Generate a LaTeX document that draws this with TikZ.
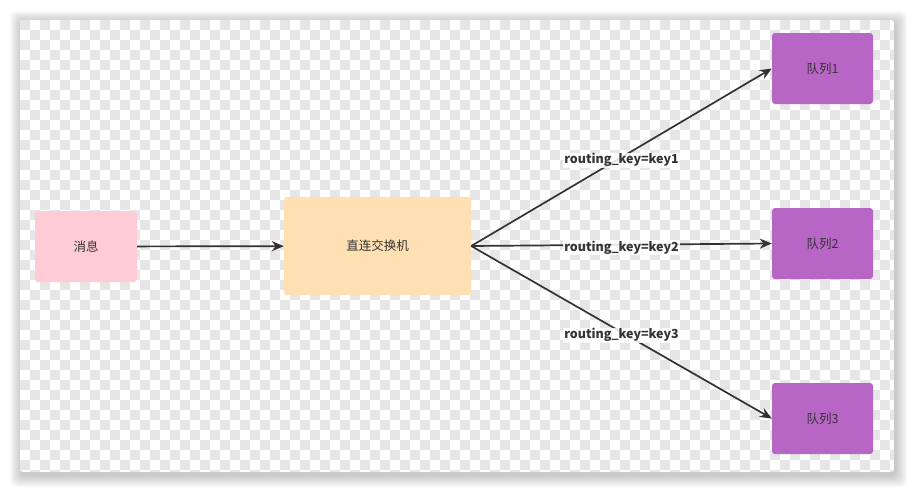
\documentclass[tikz,border=0pt]{standalone}
\usepackage{fontspec}
\setmainfont{Noto Sans CJK SC}
\usetikzlibrary{arrows.meta}
\definecolor{msgpink}{HTML}{FFCCD5}
\definecolor{xorange}{HTML}{FFE0B2}
\definecolor{qpurple}{HTML}{B866C6}
\definecolor{inkgray}{HTML}{333333}
\definecolor{checkgray}{HTML}{E6E6E6}

\begin{document}
\begin{tikzpicture}[x=1pt,y=-1pt,
    box/.style={rounded corners=3pt, inner sep=0pt, text=inkgray,
      font=\fontsize{12.5}{14}\selectfont},
    link/.style={draw=inkgray, line width=1.7pt,
      -{Stealth[length=12pt,width=10pt]}},
    key/.style={fill=white, fill opacity=0.85, text opacity=1, inner sep=1pt,
      yshift=-3pt, font=\fontsize{12.5}{14}\selectfont\bfseries, text=inkgray}]
  \useasboundingbox (0,0) rectangle (914,493);
  % card shadow
  \foreach \s in {1,...,12}
    \fill[black, opacity=0.02, rounded corners=6pt]
      (20-\s+2,20-\s+3) rectangle (894+\s+1,472+\s+3);
  % card with checkerboard
  \begin{scope}
    \clip[rounded corners=3pt] (20,20) rectangle (894,472);
    \fill[white] (20,20) rectangle (894,472);
    \foreach \j in {0,...,45}{
      \pgfmathtruncatemacro\st{mod(\j,2)}
      \pgfmathtruncatemacro\nx{\st+2}
      \foreach \i in {\st,\nx,...,87}
        \fill[checkgray] (20+\i*10,20+\j*10) rectangle ++(10,10);
    }
  \end{scope}

  \node[box, fill=msgpink, minimum width=102pt, minimum height=71pt] (msg) at (86,246.5) {消息};
  \node[box, fill=xorange, minimum width=187pt, minimum height=98pt] (exchange) at (377.5,246) {直连交换机};
  \node[box, fill=qpurple, minimum width=101pt, minimum height=71pt] (q1) at (822.5,68.5) {队列1};
  \node[box, fill=qpurple, minimum width=101pt, minimum height=71pt] (q2) at (822.5,243.5) {队列2};
  \node[box, fill=qpurple, minimum width=101pt, minimum height=71pt] (q3) at (822.5,418.5) {队列3};

  \draw[link] (msg) -- (exchange);
  \draw[link] (exchange.east) -- node[key] (k1) {routing\_key=key1} (q1.west);
  \draw[link] (exchange.east) -- node[key] (k2) {routing\_key=key2} (q2.west);
  \draw[link] (exchange.east) -- node[key] (k3) {routing\_key=key3} (q3.west);
\end{tikzpicture}
\end{document}
